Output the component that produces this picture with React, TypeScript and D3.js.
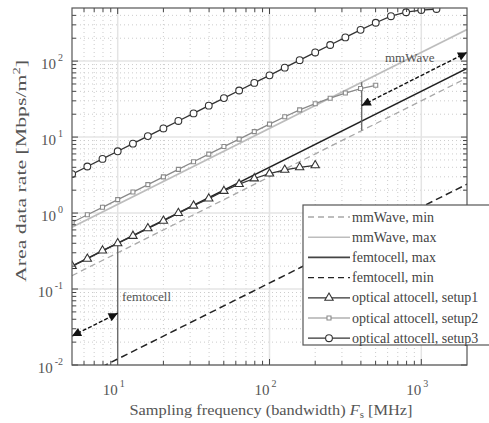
import React from "react";
import * as d3 from "d3";

const W = 489;
const H = 423;
const L = 72, R = 467, T = 8, B = 365;

// sampling points of the optical attocell curves (MHz), 10 per decade
const freq = [5.01, 6.31, 7.94, 10, 12.6, 15.8, 20, 25.1, 31.6, 39.8, 50.1, 63.1, 79.4, 100, 126, 158, 200, 251, 316, 398, 501, 631, 794, 1000, 1259];
const setup1 = [0.2, 0.25, 0.32, 0.4, 0.5, 0.63, 0.79, 1.0, 1.25, 1.55, 1.95, 2.4, 2.85, 3.3, 3.7, 4.0, 4.25];
const setup2 = [0.75, 0.95, 1.19, 1.5, 1.89, 2.37, 2.99, 3.76, 4.74, 5.96, 7.5, 9.4, 11.8, 14.8, 18.5, 22.8, 27.5, 32.5, 38, 43.5, 48];
const setup3 = [3.26, 4.1, 5.16, 6.5, 8.2, 10.3, 13.0, 16.3, 20.5, 25.9, 32.6, 41, 51.6, 65, 82, 103, 130, 163, 205, 258, 320, 390, 440, 470, 485];

// reference lines, values at both ends of the axis
const refFreq = [5, 2000];
const mmWaveMin = [0.15, 60];
const mmWaveMax = [0.65, 260];
const femtoMax = [0.2, 80];
const femtoMin = [0.006, 2.4];

// annotations
const femtoArrowF = [5, 10];
const femtoArrowV = [0.024, 0.048];
const femtoSpan = [0.012, 0.4];
const mmArrowF = [405, 2000];
const mmArrowV = [26, 130];
const mmSpan = [12.2, 52.6];

const xMajor = [10, 100, 1000];
const yMajor = [0.01, 0.1, 1, 10, 100];
const xExp = ["1", "2", "3"];
const yExp = ["-2", "-1", "0", "1", "2"];

const legendItems = [
  { label: "mmWave, min", stroke: "#a8a8a8", dash: "6 4", w: 1.3, sym: null },
  { label: "mmWave, max", stroke: "#bdbdbd", dash: null, w: 1.5, sym: null },
  { label: "femtocell, max", stroke: "#444", dash: null, w: 1.6, sym: null },
  { label: "femtocell, min", stroke: "#222", dash: "6 4", w: 1.4, sym: null },
  { label: "optical attocell, setup1", stroke: "#333", dash: null, w: 1.2, sym: d3.symbolTriangle, size: 30 },
  { label: "optical attocell, setup2", stroke: "#8a8a8a", dash: null, w: 1.2, sym: d3.symbolSquare, size: 16 },
  { label: "optical attocell, setup3", stroke: "#333", dash: null, w: 1.2, sym: d3.symbolCircle, size: 36 },
];

const x = d3.scaleLog().domain([5, 2000]).range([L, R]);
const y = d3.scaleLog().domain([0.01, 500]).range([B, T]);
const line = d3.line<[number, number]>().x((d) => x(d[0])).y((d) => y(d[1]));
const font = "'Liberation Serif', 'DejaVu Serif', serif";

const xMinor: number[] = [];
[1, 10, 100, 1000].forEach((d) => [2, 3, 4, 5, 6, 7, 8, 9].forEach((m) => {
  const v = d * m;
  if (v > 5 && v < 2000) xMinor.push(v);
}));
const yMinor: number[] = [];
[0.01, 0.1, 1, 10, 100].forEach((d) => [2, 3, 4, 5, 6, 7, 8, 9].forEach((m) => {
  const v = d * m;
  if (v < 500) yMinor.push(v);
}));

const pts = (vals: number[], fs: number[] = freq) => vals.map((v, i) => [fs[i], v] as [number, number]);

function Series({ vals, stroke, sym, size }: any) {
  const p = pts(vals);
  const path = d3.symbol().type(sym).size(size)();
  return (
    <g>
      <path d={line(p) || ""} fill="none" stroke={stroke} strokeWidth={1.3} />
      {p.map((d, i) => (
        <path key={i} d={path || ""} transform={`translate(${x(d[0])},${y(d[1])})`} fill="white" stroke={stroke} strokeWidth={1.1} />
      ))}
    </g>
  );
}

export default function App() {
  const legX = 303, legY = 205, rowH = 20.2;
  return (
    <svg width={W} height={H} style={{ position: "absolute", left: 0, top: 0, background: "white" }} fontFamily={font}>
      <defs>
        <clipPath id="plot">
          <rect x={L} y={T} width={R - L} height={B - T} />
        </clipPath>
        <marker id="ah" viewBox="0 0 10 10" refX="10" refY="5" markerWidth="12" markerHeight="9" markerUnits="userSpaceOnUse" orient="auto-start-reverse">
          <path d="M0,0 L10,5 L0,10 Z" fill="#111" />
        </marker>
      </defs>
      <rect x={L} y={T} width={R - L} height={B - T} fill="white" />
      {/* grid */}
      <g>
        {xMinor.map((v) => (
          <line key={"xm" + v} x1={x(v)} x2={x(v)} y1={T} y2={B} stroke="#cccccc" strokeWidth={1} strokeDasharray="1 3" />
        ))}
        {yMinor.map((v) => (
          <line key={"ym" + v} x1={L} x2={R} y1={y(v)} y2={y(v)} stroke="#cccccc" strokeWidth={1} strokeDasharray="1 3" />
        ))}
        {xMajor.map((v) => (
          <line key={"xM" + v} x1={x(v)} x2={x(v)} y1={T} y2={B} stroke="#e4e4e4" strokeWidth={1.5} />
        ))}
        {yMajor.map((v) => (
          <line key={"yM" + v} x1={L} x2={R} y1={y(v)} y2={y(v)} stroke="#e4e4e4" strokeWidth={1.5} />
        ))}
      </g>
      <g clipPath="url(#plot)">
        <path d={line(pts(femtoMin, refFreq)) || ""} fill="none" stroke="#222" strokeWidth={1.5} strokeDasharray="7 4" />
        <path d={line(pts(mmWaveMin, refFreq)) || ""} fill="none" stroke="#a8a8a8" strokeWidth={1.3} strokeDasharray="6 4" />
        <path d={line(pts(mmWaveMax, refFreq)) || ""} fill="none" stroke="#bdbdbd" strokeWidth={1.6} />
        <path d={line(pts(femtoMax, refFreq)) || ""} fill="none" stroke="#222" strokeWidth={1.6} />
        {/* annotation spans */}
        <line x1={x(10)} x2={x(10)} y1={y(femtoSpan[0])} y2={y(femtoSpan[1])} stroke="#666" strokeWidth={1.3} />
        <line x1={x(405)} x2={x(405)} y1={y(mmSpan[0])} y2={y(mmSpan[1])} stroke="#666" strokeWidth={1.3} />
        <Series vals={setup2} stroke="#8a8a8a" sym={d3.symbolSquare} size={16} />
        <Series vals={setup1} stroke="#333" sym={d3.symbolTriangle} size={30} />
        <Series vals={setup3} stroke="#333" sym={d3.symbolCircle} size={36} />
        <path d={line(pts(femtoArrowV, femtoArrowF)) || ""} fill="none" stroke="#111" strokeWidth={1.4} strokeDasharray="4 2" markerStart="url(#ah)" markerEnd="url(#ah)" />
        <path d={line(pts(mmArrowV, mmArrowF)) || ""} fill="none" stroke="#111" strokeWidth={1.4} strokeDasharray="4 2" markerStart="url(#ah)" markerEnd="url(#ah)" />
      </g>
      <text x={122} y={301} fontSize={13} fill="#555">femtocell</text>
      <text x={385} y={62} fontSize={13} fill="#555">mmWave</text>
      {/* ticks */}
      <g stroke="#444" strokeWidth={1}>
        {xMinor.map((v) => (
          <g key={"tx" + v}>
            <line x1={x(v)} x2={x(v)} y1={B} y2={B - 4} />
            <line x1={x(v)} x2={x(v)} y1={T} y2={T + 4} />
          </g>
        ))}
        {xMajor.map((v) => (
          <g key={"tX" + v}>
            <line x1={x(v)} x2={x(v)} y1={B} y2={B - 6} />
            <line x1={x(v)} x2={x(v)} y1={T} y2={T + 6} />
          </g>
        ))}
        {yMinor.map((v) => (
          <g key={"ty" + v}>
            <line x1={L} x2={L + 4} y1={y(v)} y2={y(v)} />
            <line x1={R} x2={R - 4} y1={y(v)} y2={y(v)} />
          </g>
        ))}
        {yMajor.map((v) => (
          <g key={"tY" + v}>
            <line x1={L} x2={L + 6} y1={y(v)} y2={y(v)} />
            <line x1={R} x2={R - 6} y1={y(v)} y2={y(v)} />
          </g>
        ))}
      </g>
      <rect x={L} y={T} width={R - L} height={B - T} fill="none" stroke="#555" strokeWidth={1.2} />
      {/* tick labels */}
      {xMajor.map((v, i) => (
        <text key={"lx" + v} x={x(v) - 4} y={395} fontSize={15} fill="#555" textAnchor="middle">
          10<tspan dx={2} dy={-8} fontSize={10}>{xExp[i]}</tspan>
        </text>
      ))}
      {yMajor.map((v, i) => (
        <text key={"ly" + v} x={63} y={y(v) + 8} fontSize={15} fill="#555" textAnchor="end">
          10<tspan dx={2} dy={-8} fontSize={10}>{yExp[i]}</tspan>
        </text>
      ))}
      <text x={271} y={415} fontSize={15} fill="#555" textAnchor="middle" textLength={283} lengthAdjust="spacingAndGlyphs">
        Sampling frequency (bandwidth) <tspan fontStyle="italic">F</tspan><tspan fontSize={10} dy={3}>s</tspan><tspan dy={-3}> [MHz]</tspan>
      </text>
      <text transform="translate(26,171) rotate(-90)" fontSize={15} fill="#555" textAnchor="middle" textLength={222} lengthAdjust="spacingAndGlyphs">
        Area data rate [Mbps/m<tspan fontSize={10} dy={-6}>2</tspan><tspan dy={6}>]</tspan>
      </text>
      {/* legend */}
      <g>
        <rect x={legX} y={legY} width={195} height={140} fill="white" stroke="#555" strokeWidth={1.2} />
        {legendItems.map((it, i) => {
          const cy = legY + 12 + i * rowH;
          const sp = it.sym ? d3.symbol().type(it.sym).size(it.size || 30)() : null;
          return (
            <g key={it.label}>
              <line x1={308} x2={350} y1={cy} y2={cy} stroke={it.stroke} strokeWidth={it.w} strokeDasharray={it.dash || undefined} />
              {sp && <path d={sp} transform={`translate(329,${cy})`} fill="white" stroke={it.stroke} strokeWidth={1.1} />}
              <text x={352} y={cy + 4.5} fontSize={14} fill="#444">{it.label}</text>
            </g>
          );
        })}
      </g>
    </svg>
  );
}
